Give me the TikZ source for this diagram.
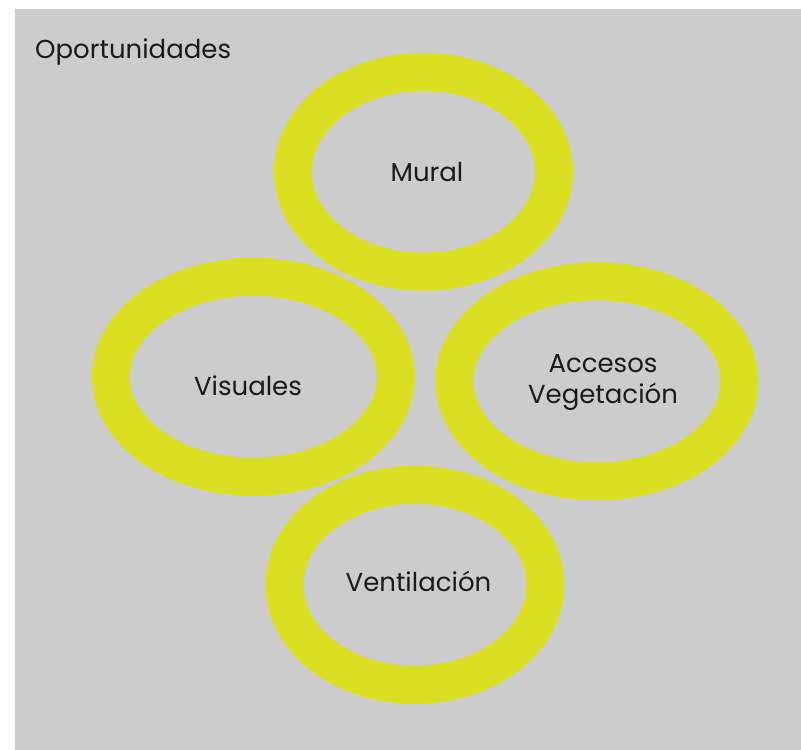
\documentclass[tikz,border=0pt]{standalone}
\usepackage{fontspec}
\setmainfont{Poppins}
\usepackage{xcolor}
\usepackage{tikz}
\usetikzlibrary{shapes.geometric}

\definecolor{fondo}{HTML}{CCCCCC}
\definecolor{anillo}{HTML}{DAE021}
\definecolor{tinta}{HTML}{1A1A1A}

\begin{document}
\begin{tikzpicture}[x=1pt,y=-1pt,
  ring/.style={ellipse,draw=anillo,line width=38pt,inner sep=0pt},
  txt/.style={text=tinta,font=\fontsize{26}{31}\selectfont,align=center,inner sep=0pt}]
\useasboundingbox(0,0)rectangle(801,750);
\fill[fondo](15,9)rectangle(801,750);
\node[txt,anchor=west](titulo)at(35,52){Oportunidades};
% anillos
\node[ring,minimum width=261pt,minimum height=200pt](mural)at(423.5,171.5){};
\node[ring,minimum width=285pt,minimum height=200pt](visuales)at(253.5,376.5){};
\node[ring,minimum width=285pt,minimum height=200pt](accesos)at(597,381){};
\node[ring,minimum width=261pt,minimum height=200pt](ventilacion)at(415,584.5){};
% textos
\node[txt](tmural)at([shift={(3.5,0.5)}]mural.center){Mural};
\node[txt](tvisuales)at([shift={(-5.5,9)}]visuales.center){Visuales};
\node[txt](taccesos)at([shift={(6,1.5)}]accesos.center){Accesos\\Vegetación};
\node[txt](tventilacion)at([shift={(3.5,-3.5)}]ventilacion.center){Ventilación};
\end{tikzpicture}
\end{document}
